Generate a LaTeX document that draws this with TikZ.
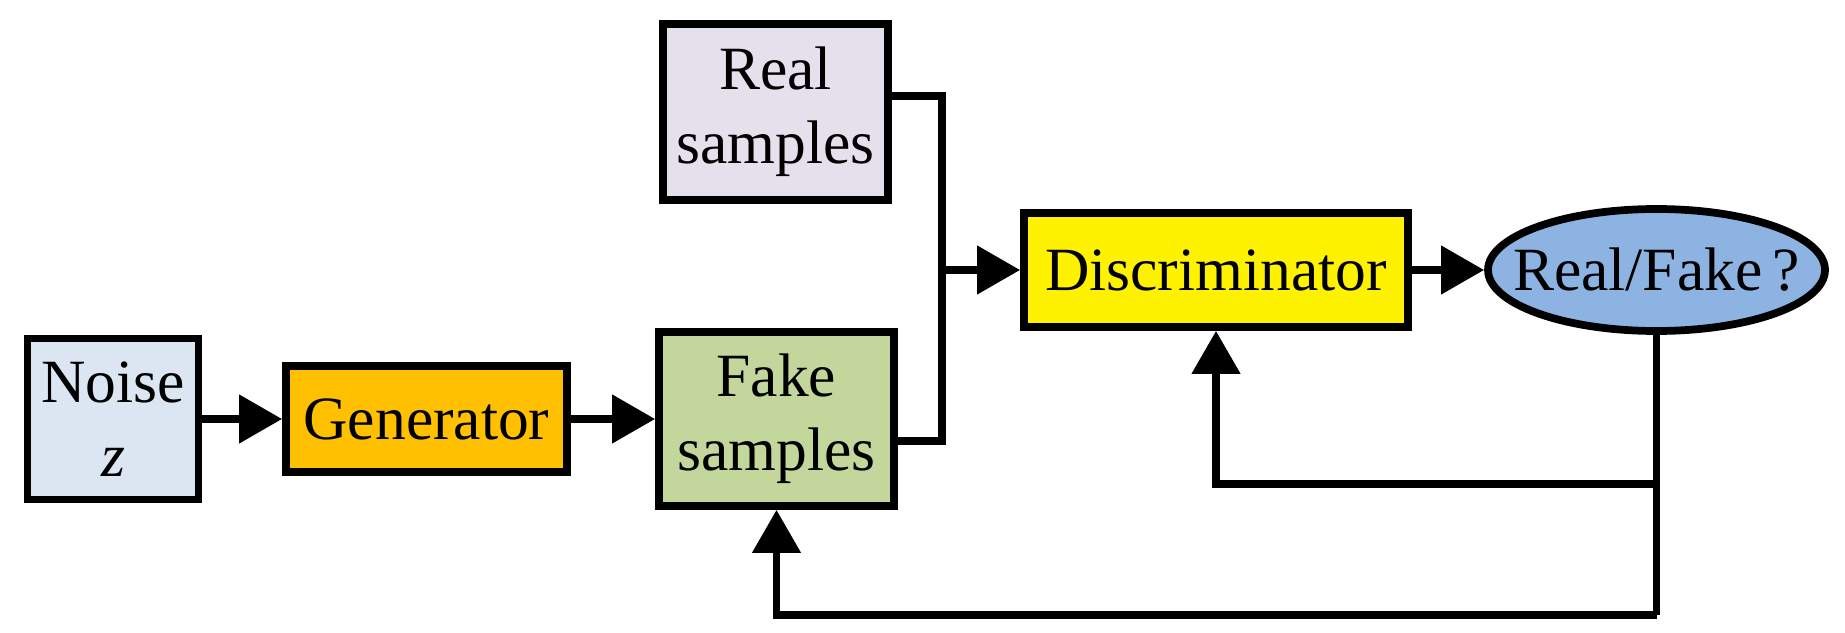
\documentclass[tikz,border=0pt]{standalone}
\usepackage{fontspec}
\setmainfont{Liberation Serif}
\usetikzlibrary{arrows.meta,shapes.geometric}
\definecolor{noiseblue}{HTML}{DCE6F2}
\definecolor{genorange}{HTML}{FFC000}
\definecolor{fakegreen}{HTML}{C3D69B}
\definecolor{reallilac}{HTML}{E6E0EC}
\definecolor{outblue}{HTML}{8DB3E2}

\begin{document}
\begin{tikzpicture}[
  box/.style={shape=rectangle,draw=black,line width=2.2pt,inner sep=0pt,align=center,font=\fontsize{17.5}{21}\selectfont},
  link/.style={line width=2.2pt},
  arr/.style={link,-{Triangle[length=4.3mm,width=4.7mm]}}
]
\useasboundingbox (0,0) rectangle (18.45,6.32);
\node[box,fill=noiseblue,minimum width=1.71cm,minimum height=1.61cm] (N) at (1.13,2.13) {Noise\\\textit{z}};
\node[box,fill=genorange,minimum width=2.81cm,minimum height=1.06cm] (G) at (4.265,2.13) {Generator};
\node[box,fill=fakegreen,minimum width=2.35cm,minimum height=1.74cm] (F) at (7.765,2.13) {Fake\\samples};
\node[box,fill=reallilac,minimum width=2.25cm,minimum height=1.76cm] (R) at (7.755,5.20) {Real\\samples};
\node[box,fill=yellow,minimum width=3.84cm,minimum height=1.14cm] (D) at (12.16,3.62) {Discriminator};
\node[box,shape=ellipse,fill=outblue,minimum width=3.37cm,minimum height=1.22cm] (O) at (16.565,3.62) {\makebox[0pt]{Real/Fake\,?}};
\coordinate (J) at (9.42,3.62);
\coordinate (K1) at (16.565,1.48);
\coordinate (K2) at (16.565,0.17);
% forward path
\path [arr] (N) edge (G);
\path [arr] (G) edge (F);
\draw [link] ([yshift=1.6mm]R.east) -| (J) |- ([yshift=-2.2mm]F.east);
\path [arr] (J) edge (D);
\path [arr] (D) edge (O);
% feedback
\draw [link] (O.south) -- (K2);
\draw [arr] (K1) -| (D.south);
\draw [arr] (K2) -| (F.south);
\end{tikzpicture}
\end{document}
